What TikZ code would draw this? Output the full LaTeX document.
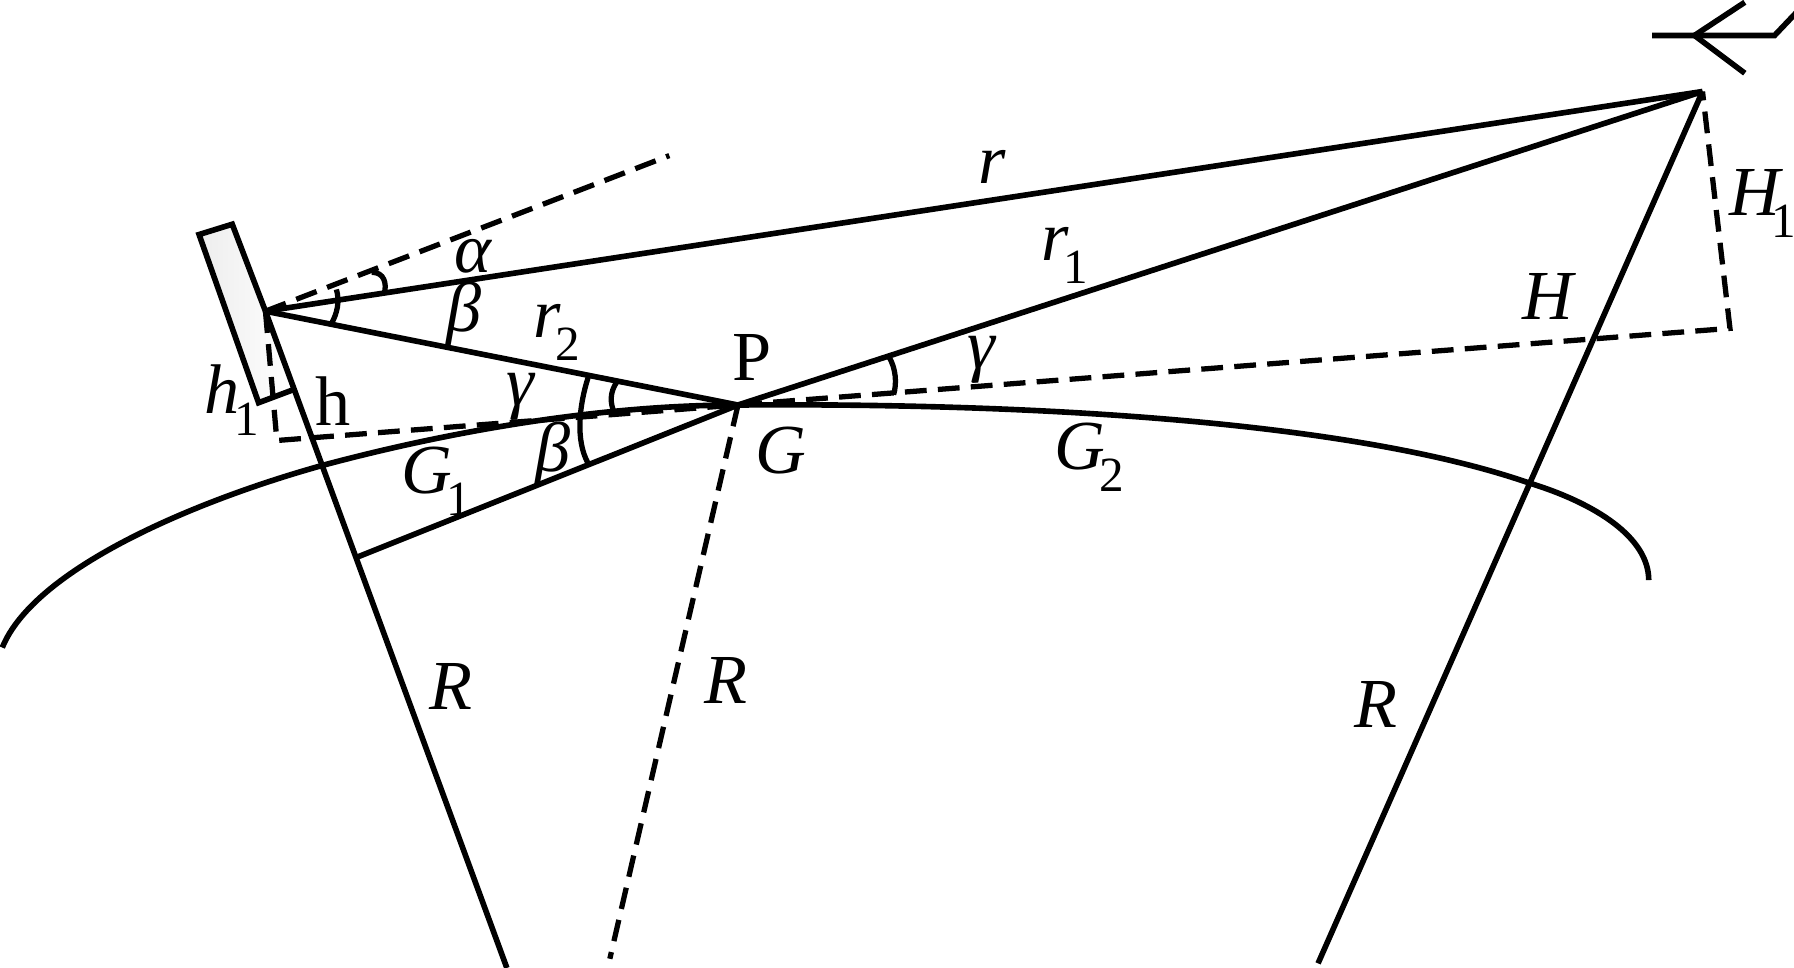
\documentclass[tikz,border=0pt]{standalone}
\usepackage{fontspec}
\setmainfont{Liberation Serif}
\usetikzlibrary{shadings}
\newcommand{\subtext}[2]{#1\raisebox{-6.5pt}{\kern-1.5pt\fontsize{14}{14}\selectfont\upshape #2}}
\begin{document}
\begin{tikzpicture}[
x=0.01144cm, y=-0.01144cm,
wireline/.style={draw=black, line width=1.6pt},
arcline/.style={draw=black, line width=1.5pt},
dashedline/.style={draw=black, line width=1.5pt, dash pattern=on 6.2pt off 3.2pt},
labelnode/.style={inner sep=0pt, anchor=base west, font=\fontsize{20}{20}\selectfont\itshape},
uprightnode/.style={inner sep=0pt, anchor=base west, font=\fontsize{20}{20}\selectfont},
]
\useasboundingbox (0,0) rectangle (1568,846);
\clip (0,0) rectangle (1568,846);
%Points
\coordinate (panelA) at (174,205);
\coordinate (panelB) at (203,196);
\coordinate (panelC) at (258,340);
\coordinate (panelD) at (226,352);
\coordinate (rx) at (232,272);
\coordinate (tx) at (1488,80);
\coordinate (ptP) at (645,354);
\coordinate (footh) at (242,385);
\coordinate (footH) at (1512,287);
\coordinate (tiltend) at (585,136);
\coordinate (baseL) at (443,846);
\coordinate (baseM) at (533,838);
\coordinate (baseR) at (1152,842);
\coordinate (footr) at (312,487);
\coordinate (crossL) at (281,407);
\coordinate (crossR) at (1336,422);
\coordinate (curveS) at (2,566);
\coordinate (curveE) at (1441,507);
\coordinate (antC) at (1481,31);
\coordinate (antL) at (1444,31);
\coordinate (antM) at (1551,31);
\coordinate (antE) at (1570,11);
\coordinate (antU) at (1525,2);
\coordinate (antD) at (1525,64);

%Nodes
\node[labelnode]   (rlabel)    at (855,160)  {r};
\node[labelnode]   (r1label)   at (910,228)  {\subtext{r}{1}};
\node[labelnode]   (r2label)   at (466,295)  {\subtext{r}{2}};
\node[labelnode]   (alabel)    at (397,238)  {α};
\node[labelnode]   (b1label)   at (390,290)  {β};
\node[labelnode]   (g1label)   at (442,354)  {γ};
\node[labelnode]   (g2label)   at (845,322)  {γ};
\node[labelnode]   (b2label)   at (467,412)  {β};
\node[uprightnode] (plabel)    at (640,333)  {P};
\node[uprightnode] (hlabel)    at (275,372)  {h};
\node[labelnode]   (h1label)   at (178,361)  {\subtext{h}{1}};
\node[labelnode]   (Glabel)    at (660,414)  {G};
\node[labelnode]   (G1label)   at (350,431)  {\subtext{G}{1}};
\node[labelnode]   (G2label)   at (921,410)  {\subtext{G}{2}};
\node[labelnode]   (Hlabel)    at (1330,279) {H};
\node[labelnode]   (H1label)   at (1511,188) {\subtext{H\kern-1pt}{1}};
\node[labelnode]   (Rleft)     at (375,620)  {R};
\node[labelnode]   (Rmid)      at (615,615)  {R};
\node[labelnode]   (Rright)    at (1183,636) {R};

%Lines
\shade[left color=gray!14, right color=white] (panelA) -- (panelB) -- (panelC) -- (panelD) -- cycle;
\draw[wireline] (panelC) -- (panelD) -- (panelA) -- (panelB) -- (rx);
\draw[wireline] (rx) -- (baseL);
\draw[wireline] (rx) -- (tx);
\draw[wireline] (rx) -- (ptP);
\draw[wireline] (footr) -- (ptP) -- (tx);
\draw[wireline] (baseR) -- (tx);
\draw[wireline] (curveS) .. controls (30,497) and (170,438) .. (crossL)
  .. controls (400,375) and (530,354) .. (ptP)
  .. controls (900,352) and (1180,368) .. (crossR)
  .. controls (1395,440) and (1441,470) .. (curveE);
\draw[dashedline] (rx) -- (tiltend);
\draw[dashedline] (rx) -- (footh) -- (footH) -- (tx);
\draw[dashedline] (ptP) -- (baseM);

%Angle marks
\draw[arcline] (325,238) .. controls (336,238) and (338,248) .. (336,256);
\draw[arcline] (294,253) .. controls (297,263) and (295,274) .. (289,284);
\draw[arcline] (539,334) .. controls (533,343) and (533,352) .. (537,361);
\draw[arcline] (514,330) .. controls (506,355) and (503,385) .. (514,405);
\draw[arcline] (777,312) .. controls (783,322) and (784,335) .. (781,345);

%Antenna
\draw[wireline] (antL) -- (antM) -- (antE);
\draw[wireline] (antU) -- (antC) -- (antD);
\end{tikzpicture}
\end{document}
